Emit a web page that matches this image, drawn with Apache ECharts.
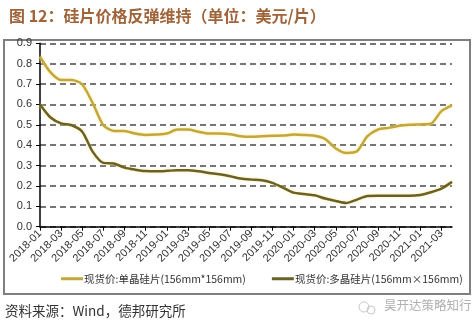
<!DOCTYPE html>
<html><head><meta charset="utf-8">
<script src="https://cdn.jsdelivr.net/npm/echarts@6/dist/echarts.min.js"></script>
<style>html,body{margin:0;padding:0;background:#fff}#c{width:476px;height:327px}</style>
</head><body><div id="c"></div>
<script>
var categories = ['2018-01','2018-02','2018-03','2018-04','2018-05','2018-06','2018-07','2018-08','2018-09','2018-10','2018-11','2018-12',
'2019-01','2019-02','2019-03','2019-04','2019-05','2019-06','2019-07','2019-08','2019-09','2019-10','2019-11','2019-12',
'2020-01','2020-02','2020-03','2020-04','2020-05','2020-06','2020-07','2020-08','2020-09','2020-10','2020-11','2020-12',
'2021-01','2021-02','2021-03','2021-04'];
var monoPrice = [0.834,0.757,0.72,0.72,0.698,0.605,0.498,0.47,0.47,0.457,0.45,0.452,
0.457,0.477,0.477,0.466,0.457,0.457,0.454,0.444,0.441,0.444,0.446,0.447,
0.452,0.45,0.446,0.43,0.384,0.362,0.37,0.444,0.477,0.485,0.495,0.5,
0.502,0.505,0.567,0.595];
var polyPrice = [0.60,0.536,0.507,0.498,0.466,0.367,0.313,0.31,0.29,0.28,0.273,0.272,
0.274,0.277,0.277,0.272,0.264,0.257,0.248,0.236,0.231,0.228,0.215,0.192,
0.167,0.16,0.154,0.138,0.126,0.116,0.133,0.151,0.152,0.152,0.152,0.152,
0.156,0.169,0.187,0.22];
var seriesNames = ['现货价:单晶硅片(156mm*156mm)','现货价:多晶硅片(156mm×156mm)'];
var yTicks = {min:0, max:0.9, interval:0.1};

var chart = echarts.init(document.getElementById('c'), null, {renderer:'canvas'});
chart.setOption({
  animation:false,
  backgroundColor:'#fff',
  title:{text:'图 12：硅片价格反弹维持（单位：美元/片）', left:4, top:3,
    textStyle:{color:'#a0643a', fontSize:16, fontWeight:'bold', fontFamily:'"Noto Sans CJK SC"'}},
  grid:{left:40, right:24, top:43.3, bottom:100.3},
  legend:{bottom:38, left:56, itemGap:26, itemWidth:22, itemHeight:3, icon:'rect',
    data:seriesNames,
    textStyle:{fontSize:10.5, color:'#333', fontFamily:'"Noto Sans CJK SC"', padding:[0,0,0,-4]}},
  xAxis:{type:'category', data:categories, boundaryGap:false,
    axisLine:{lineStyle:{color:'#000', width:1.5}},
    axisTick:{interval:1, length:4, lineStyle:{color:'#000'}},
    axisLabel:{interval:1, rotate:45, fontSize:11, color:'#333', margin:5, fontFamily:'"Liberation Sans"'}},
  yAxis:{type:'value', min:yTicks.min, max:yTicks.max, interval:yTicks.interval,
    axisLine:{show:true, lineStyle:{color:'#000', width:1.5}},
    axisTick:{show:true, length:4, lineStyle:{color:'#000'}},
    axisLabel:{fontSize:11, color:'#333', margin:8, fontFamily:'"Liberation Sans"', formatter:function(v){return v.toFixed(1);}},
    splitLine:{lineStyle:{color:'#4a4a4a', width:1.5, type:[6,4]}}},
  series:[
    {name:seriesNames[0], type:'line', data:monoPrice, symbol:'none', smooth:0.25,
      itemStyle:{color:'#c2a73e'},
      lineStyle:{color:'#c2a73e', width:2.5, shadowColor:'rgba(255,235,140,0.9)', shadowBlur:3}},
    {name:seriesNames[1], type:'line', data:polyPrice, symbol:'none', smooth:0.25,
      itemStyle:{color:'#6b6128'},
      lineStyle:{color:'#6b6128', width:2.5, shadowColor:'rgba(255,235,140,0.8)', shadowBlur:3}}
  ],
  graphic:[
    {type:'rect', shape:{x:4, y:40, width:466, height:254}, style:{fill:null, stroke:'#7f7f7f', lineWidth:2}, silent:true},
    {type:'text', left:5, top:304, style:{text:'资料来源：Wind，德邦研究所', fill:'#333', font:'13.5px "Noto Sans CJK SC"'}},
    {type:'circle', shape:{cx:364, cy:307, r:5}, style:{fill:null, stroke:'#c8c8c8', lineWidth:1}},
    {type:'circle', shape:{cx:371, cy:310, r:4}, style:{fill:null, stroke:'#c8c8c8', lineWidth:1}},
    {type:'text', left:384, top:299, style:{text:'昊开达策略知行', fill:'#b0b0b0', font:'12.5px "Noto Sans CJK SC"'}}
  ]
});
</script></body></html>
